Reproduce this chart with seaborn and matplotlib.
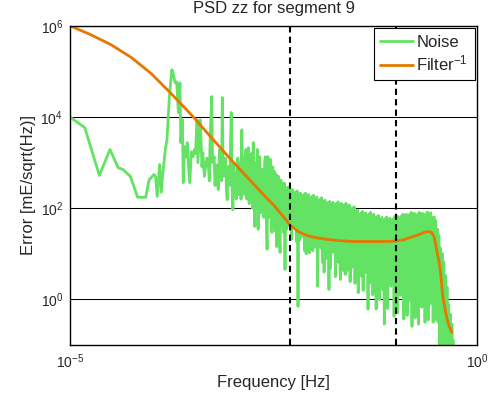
import numpy as np
import pandas as pd
import matplotlib
matplotlib.use("Agg")
import matplotlib.pyplot as plt
import matplotlib.ticker as mticker
import seaborn as sns

# ---- data, as (log10 frequency, log10 error) ----
# sparse low-frequency part with the big spike near 2e-4 Hz
noise_sparse = [
    (-5.00, 4.00), (-4.82, 3.77), (-4.64, 2.72), (-4.51, 3.29), (-4.41, 2.89),
    (-4.35, 2.85), (-4.26, 2.70), (-4.17, 2.24), (-4.07, 2.24), (-4.03, 2.62),
    (-3.97, 2.74), (-3.95, 2.70), (-3.93, 2.26), (-3.90, 2.96), (-3.88, 2.35),
    (-3.86, 2.78), (-3.83, 3.29), (-3.81, 3.51), (-3.78, 4.45), (-3.75, 5.04),
    (-3.73, 4.93), (-3.71, 4.75), (-3.69, 4.77), (-3.67, 4.10), (-3.65, 4.75),
    (-3.64, 3.44), (-3.62, 3.94), (-3.61, 2.56), (-3.59, 3.35), (-3.57, 3.13),
    (-3.56, 3.44), (-3.55, 3.05), (-3.53, 2.56), (-3.51, 3.24), (-3.49, 3.13),
    (-3.47, 3.29), (-3.46, 3.20), (-3.44, 3.94), (-3.43, 3.00), (-3.41, 3.60),
    (-3.40, 3.94), (-3.38, 2.91),
]

# spiky middle part
noise_mid = [
    (-3.37, 3.22), (-3.35, 2.70), (-3.34, 2.85), (-3.32, 3.10), (-3.30, 2.91),
    (-3.29, 2.60), (-3.28, 3.51), (-3.26, 4.45), (-3.25, 3.00), (-3.23, 3.13),
    (-3.22, 2.50), (-3.20, 2.95), (-3.19, 2.63), (-3.18, 2.41), (-3.17, 3.00),
    (-3.16, 3.29), (-3.14, 2.60), (-3.13, 4.43), (-3.12, 2.70), (-3.11, 2.78),
    (-3.09, 3.10), (-3.08, 2.40), (-3.07, 2.19), (-3.06, 2.91), (-3.04, 2.50),
    (-3.03, 3.30), (-3.02, 4.10), (-3.01, 2.56), (-3.00, 1.97), (-2.99, 3.00),
    (-2.98, 2.40), (-2.97, 2.78), (-2.96, 2.20), (-2.95, 2.41), (-2.94, 3.10),
    (-2.93, 2.30), (-2.92, 2.63), (-2.91, 3.00), (-2.90, 2.20), (-2.89, 3.72),
    (-2.88, 2.40), (-2.87, 3.10), (-2.86, 2.30), (-2.85, 2.91), (-2.84, 3.29),
    (-2.83, 2.20), (-2.82, 2.63), (-2.81, 3.33), (-2.80, 2.10), (-2.79, 2.91),
    (-2.78, 2.30), (-2.77, 3.20), (-2.76, 2.00), (-2.75, 3.44), (-2.74, 2.20),
    (-2.73, 1.60), (-2.72, 3.00), (-2.71, 2.00), (-2.70, 3.29), (-2.69, 1.54),
    (-2.68, 2.90), (-2.67, 3.13), (-2.66, 1.90), (-2.65, 2.85), (-2.64, 2.00),
    (-2.63, 2.85), (-2.62, 1.80), (-2.61, 3.00), (-2.60, 3.13), (-2.59, 1.90),
    (-2.58, 1.10), (-2.57, 3.13), (-2.56, 1.80), (-2.55, 2.80), (-2.54, 3.07),
    (-2.53, 1.70), (-2.52, 1.47), (-2.51, 2.91), (-2.50, 1.60), (-2.49, 2.80),
    (-2.48, 1.50), (-2.47, 2.75), (-2.46, 1.16), (-2.45, 2.60), (-2.44, 2.70),
    (-2.43, 1.40), (-2.42, 1.03),
]

# dense high-frequency band
noise_dense = [
    (-2.41, 2.62), (-2.40, 1.79), (-2.39, 2.54), (-2.38, 1.47), (-2.37, 2.55), (-2.36, 0.66),
    (-2.35, 2.41), (-2.34, 1.54), (-2.33, 2.46), (-2.32, 1.62), (-2.31, 2.47), (-2.30, 1.90),
    (-2.29, 2.38), (-2.28, 1.32), (-2.27, 2.41), (-2.26, 1.68), (-2.25, 2.29), (-2.24, 1.60),
    (-2.23, 2.36), (-2.22, 1.27), (-2.21, 2.38), (-2.20, -0.15), (-2.19, 2.31), (-2.18, 1.30),
    (-2.17, 2.33), (-2.16, 1.37), (-2.15, 2.22), (-2.14, 1.64), (-2.13, 2.30), (-2.12, 1.07),
    (-2.11, 2.33), (-2.10, 1.00), (-2.09, 2.26), (-2.08, 1.35), (-2.07, 2.30), (-2.06, 1.02),
    (-2.05, 2.19), (-2.04, 1.44), (-2.03, 2.26), (-2.02, 1.07), (-2.01, 2.29), (-2.00, 1.14),
    (-1.99, 2.22), (-1.98, 1.41), (-1.97, 2.25), (-1.96, 0.29), (-1.95, 2.13), (-1.94, 1.21),
    (-1.93, 2.20), (-1.92, 1.13), (-1.91, 2.23), (-1.90, 0.82), (-1.89, 2.15), (-1.88, 0.60),
    (-1.87, 2.18), (-1.86, 0.89), (-1.85, 2.06), (-1.84, 0.97), (-1.83, 2.13), (-1.82, 0.22),
    (-1.81, 2.15), (-1.80, 0.69), (-1.79, 2.09), (-1.78, 1.09), (-1.77, 2.13), (-1.76, 1.03),
    (-1.75, 2.02), (-1.74, 0.50), (-1.73, 2.10), (-1.72, 1.17), (-1.71, 2.14), (-1.70, 0.81),
    (-1.69, 2.07), (-1.68, 0.44), (-1.67, 2.11), (-1.66, 1.19), (-1.65, 2.00), (-1.64, 0.63),
    (-1.63, 2.08), (-1.62, 0.55), (-1.61, 2.11), (-1.60, 0.95), (-1.59, 2.04), (-1.58, 0.63),
    (-1.57, 2.07), (-1.56, 0.39), (-1.55, 1.96), (-1.54, 0.70), (-1.53, 2.01), (-1.52, 0.79),
    (-1.51, 2.03), (-1.50, 0.35), (-1.49, 1.94), (-1.48, 0.50), (-1.47, 1.96), (-1.46, 0.15),
    (-1.45, 1.83), (-1.44, 0.82), (-1.43, 1.89), (-1.42, 0.51), (-1.41, 1.93), (-1.40, 0.20),
    (-1.39, 1.87), (-1.38, 0.58), (-1.37, 1.90), (-1.36, 0.66), (-1.35, 1.80), (-1.34, -0.21),
    (-1.33, 1.87), (-1.32, 0.36), (-1.31, 1.91), (-1.30, 0.74), (-1.29, 1.84), (-1.28, 0.10),
    (-1.27, 1.87), (-1.26, 0.36), (-1.25, 1.75), (-1.24, -0.21), (-1.23, 1.82), (-1.22, 0.43),
    (-1.21, 1.84), (-1.20, 0.00), (-1.19, 1.76), (-1.18, 0.79), (-1.17, 1.80), (-1.16, 0.22),
    (-1.15, 1.69), (-1.14, -0.54), (-1.13, 1.77), (-1.12, 0.54), (-1.11, 1.81), (-1.10, -0.20),
    (-1.09, 1.74), (-1.08, 0.66), (-1.07, 1.78), (-1.06, 0.29), (-1.05, 1.69), (-1.04, 0.37),
    (-1.03, 1.77), (-1.02, -0.37), (-1.01, 1.82), (-1.00, 0.09), (-0.99, 1.77), (-0.98, -0.30),
    (-0.97, 1.82), (-0.96, 0.41), (-0.95, 1.74), (-0.94, 0.09), (-0.93, 1.83), (-0.92, 0.53),
    (-0.91, 1.87), (-0.90, -0.43), (-0.89, 1.82), (-0.88, 0.25), (-0.87, 1.87), (-0.86, -0.35),
    (-0.85, 1.77), (-0.84, -0.03), (-0.83, 1.86), (-0.82, 0.35), (-0.81, 1.91), (-0.80, -0.59),
    (-0.79, 1.85), (-0.78, -0.02), (-0.77, 1.89), (-0.76, -0.40), (-0.75, 1.79), (-0.74, 0.05),
    (-0.73, 1.87), (-0.72, -0.54), (-0.71, 1.91), (-0.70, 0.40), (-0.69, 1.85), (-0.68, -0.17),
    (-0.67, 1.89), (-0.66, 0.17), (-0.65, 1.79), (-0.64, -0.50), (-0.63, 1.88), (-0.62, -0.17),
    (-0.61, 1.92), (-0.60, -0.45), (-0.59, 1.86), (-0.58, -0.10), (-0.57, 1.90), (-0.56, -0.07),
    (-0.55, 1.79), (-0.54, -0.50), (-0.53, 1.81), (-0.52, -0.45), (-0.51, 1.73), (-0.50, -0.25),
    (-0.49, 1.54), (-0.48, -0.50), (-0.47, 1.41), (-0.46, -1.10), (-0.45, 1.13), (-0.44, -1.40),
    (-0.43, 1.01), (-0.42, -1.40), (-0.41, 0.82), (-0.40, -1.40), (-0.39, 0.53), (-0.38, -1.40),
    (-0.37, 0.28), (-0.36, -1.40), (-0.35, -0.11), (-0.34, -1.40), (-0.33, -0.32), (-0.32, -1.40),
    (-0.31, -0.54), (-0.30, -1.40), (-0.29, -0.90),
]

filter_logf = [-5.00, -4.75, -4.50, -4.25, -4.00, -3.75, -3.50, -3.25, -3.00,
               -2.75, -2.60, -2.50, -2.40, -2.30, -2.20, -2.10, -2.00, -1.85,
               -1.70, -1.50, -1.31, -1.15, -1.00, -0.90, -0.82, -0.72, -0.65,
               -0.60, -0.56, -0.53, -0.50, -0.47, -0.45, -0.42, -0.39, -0.37,
               -0.34, -0.31]
filter_logerr = [6.00, 5.81, 5.59, 5.31, 4.95, 4.50, 4.03, 3.52, 3.02,
                 2.54, 2.25, 2.07, 1.86, 1.64, 1.49, 1.41, 1.36, 1.32,
                 1.29, 1.27, 1.27, 1.27, 1.28, 1.31, 1.36, 1.42, 1.47,
                 1.49, 1.47, 1.38, 1.12, 0.85, 0.60, 0.05, -0.25, -0.43,
                 -0.60, -0.72]

band_edges = [0.005, 0.1]
x_ticks = [1e-5, 1e0]
y_ticks = [1e0, 1e2, 1e4, 1e6]

# ---- style ----
sns.set_style("white")
plt.rcParams['font.family'] = ['Liberation Sans', 'DejaVu Sans']
plt.rcParams['mathtext.fontset'] = 'custom'
plt.rcParams['mathtext.rm'] = 'Liberation Sans'
plt.rcParams['mathtext.it'] = 'Liberation Sans:italic'
plt.rcParams['mathtext.bf'] = 'Liberation Sans:bold'

noise = pd.DataFrame(noise_sparse + noise_mid + noise_dense, columns=['logf', 'logerr'])
noise['f'] = 10 ** noise['logf']
noise['err'] = 10 ** noise['logerr']
filt = pd.DataFrame({'f': 10 ** np.array(filter_logf),
                     'err': 10 ** np.array(filter_logerr)})

fig = plt.figure(figsize=(4.97, 3.98), dpi=100)
ax = fig.add_axes([0.141, 0.133, 0.819, 0.802])
ax.set_xscale('log')
ax.set_yscale('log')

sns.lineplot(data=noise, x='f', y='err', ax=ax, color='#64e264', lw=2,
             estimator=None, sort=False, label='Noise')
sns.lineplot(data=filt, x='f', y='err', ax=ax, color='#e57800', lw=2,
             estimator=None, sort=False, label='Filter$^{-1}$')

for xb in band_edges:
    ax.axvline(xb, color='black', lw=1.5, ls=(0, (3, 2)))

ax.set_xlim(1e-5, 1e0)
ax.set_ylim(1e-1, 1e6)
ax.set_xticks(x_ticks)
ax.set_yticks(y_ticks)
ax.xaxis.set_minor_locator(mticker.NullLocator())
ax.yaxis.set_minor_locator(mticker.NullLocator())
ax.yaxis.grid(True, color='black', lw=0.75)
ax.tick_params(direction='in', length=4, width=0.8, labelsize=10, pad=5)
for sp in ax.spines.values():
    sp.set_color('black')
    sp.set_linewidth(1.0)

ax.set_title('PSD zz for segment 9', fontsize=12, pad=9)
ax.set_xlabel('Frequency [Hz]', fontsize=12, labelpad=3)
ax.set_ylabel('Error [mE/sqrt(Hz)]', fontsize=12, labelpad=3)

leg = ax.legend(loc='upper right', frameon=True, fancybox=False, framealpha=1,
                edgecolor='black', borderaxespad=0.15, handlelength=1.96,
                fontsize=12, borderpad=0.38, labelspacing=0.25, handletextpad=0.2)
leg.get_frame().set_linewidth(0.8)

fig.savefig('out.png', dpi=100)
